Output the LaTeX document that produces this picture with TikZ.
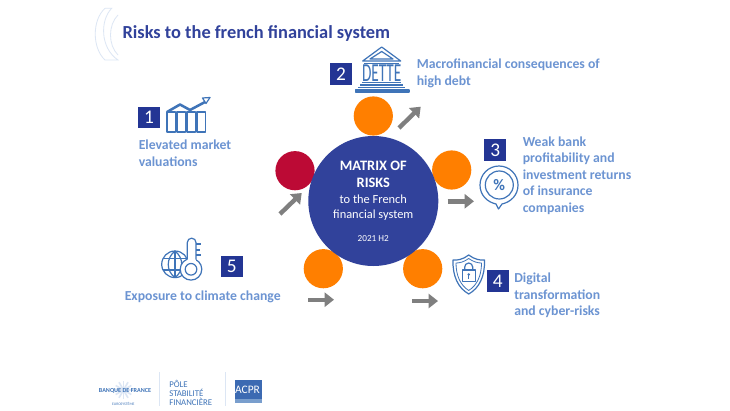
\documentclass[tikz,border=0pt]{standalone}
\usepackage{fontspec}
\setmainfont{Carlito}
\usetikzlibrary{arrows.meta}
\definecolor{navy}{HTML}{31429B}
\definecolor{boxnavy}{HTML}{233594}
\definecolor{lab}{HTML}{6C94D2}
\definecolor{ico}{HTML}{3F74B8}
\definecolor{org}{HTML}{FF7F00}
\definecolor{rd}{HTML}{BC0A35}
\definecolor{gry}{HTML}{7F7F7F}
\definecolor{pale}{HTML}{DCE6F4}
\tikzset{
 lbl/.style={inner sep=0pt,anchor=west,align=left,text=lab,font=\fontsize{10.3}{12.4}\selectfont\bfseries},
 num/.style={fill=boxnavy,text=white,minimum width=16.4pt,minimum height=16.4pt,inner sep=0pt,font=\fontsize{14.5}{14.5}\selectfont},
 dot/.style={circle,inner sep=0pt,minimum size=29.4pt},
 big/.style={circle,fill=navy,inner sep=0pt,minimum size=97.5pt},
 blk/.style={draw=gry,line width=3.3pt,-{Triangle[length=7pt,width=10.5pt]}},
 icn/.style={draw=ico,line width=0.9pt,line join=round},
 icnt/.style={draw=ico,line width=0.6pt,line join=round},
 arcl/.style={draw=pale,line width=0.6pt},
 logo/.style={inner sep=0pt,text=ico}
}
\begin{document}
\begin{tikzpicture}[x=0.75pt,y=-0.75pt]
\useasboundingbox (0,0) rectangle (730,410);
\fill[white] (0,0) rectangle (730,410);
% corner arcs
\draw[arcl] (105,8.3) -- (111.7,8.3) .. controls (100,20) and (100,48) .. (118,60) -- (105,60) .. controls (92,48) and (92,20) .. (105,8.3);
\draw[arcl] (118,15) .. controls (108,25) and (108,45) .. (118,55);
\node[inner sep=0pt,anchor=base west,text=navy,font=\fontsize{13.8}{15}\selectfont\bfseries] (title) at (122.3,39) {Risks to the french financial system};
% circles
\node[dot,fill=org] (d2) at (373.3,116) {};
\node[dot,fill=rd] (d1) at (295,170.7) {};
\node[dot,fill=org] (d3) at (451.7,170) {};
\node[dot,fill=org] (d5) at (323.3,268.7) {};
\node[dot,fill=org] (d4) at (422.7,268.7) {};
\node[big] (mx) at (373.3,201) {};
\node[inner sep=0pt,text=white,align=center,font=\fontsize{10.8}{13}\selectfont\bfseries] (mt) at (373.3,174.5) {MATRIX OF\\RISKS};
\node[inner sep=0pt,text=white,align=center,font=\fontsize{9.3}{11.3}\selectfont] (ms) at (373.3,207.5) {to the French\\financial system};
\node[inner sep=0pt,text=white,font=\fontsize{6.9}{8}\selectfont] (my) at (373.3,239) {2021 H2};
% arrows
\coordinate (a1s) at (280,214); \coordinate (a1e) at (301.7,193);
\coordinate (a2s) at (399,128); \coordinate (a2e) at (420.7,106.7);
\coordinate (a3s) at (447.7,201.3); \coordinate (a3e) at (474,201.3);
\coordinate (a4s) at (412.3,301); \coordinate (a4e) at (438,301);
\coordinate (a5s) at (308.3,299.7); \coordinate (a5e) at (334,299.7);
\draw[blk] (a1s) -- (a1e);
\draw[blk] (a2s) -- (a2e);
\draw[blk] (a3s) -- (a3e);
\draw[blk] (a4s) -- (a4e);
\draw[blk] (a5s) -- (a5e);
% numbers
\node[num] (n1) at (149,117.5) {1};
\node[num] (n2) at (341,74.2) {2};
\node[num] (n3) at (495.2,149.9) {3};
\node[num] (n4) at (497.8,281.2) {4};
\node[num] (n5) at (231.8,266.5) {5};
% labels
\node[lbl] (l1) at (138.5,153) {Elevated market\\valuations};
\node[lbl] (l2) at (416.5,73.5) {Macrofinancial consequences of\\high debt};
\node[lbl] (l3) at (522.5,175.5) {Weak bank\\profitability and\\investment returns\\of insurance\\companies};
\node[lbl] (l4) at (514,295.5) {Digital\\transformation\\and cyber-risks};
\node[lbl] (l5) at (124.5,296.5) {Exposure to climate change};
% icon 1
\foreach \x in {167,177,187,197}{\draw[icn] (\x,132) -- (\x,112) -- (\x+8.5,112) -- (\x+8.5,132) -- cycle;}
\draw[ico,line width=1.9pt,line join=round] (167,112) -- (180,104.5) -- (190,110) -- (205,102);
\draw[icn] (202.5,98) -- (210,97.5) -- (206,103.5) -- cycle;
% icon 2
\draw[icn] (381.7,47) -- (362.7,61) -- (400.7,61) -- cycle;
\draw[icn] (381.7,51.5) -- (370,59) -- (393,59) -- cycle;
\draw[icn] (364,63.5) -- (399,63.5);
\node[inner sep=0pt,text=ico,font=\fontsize{13}{13}\selectfont,xscale=0.88,yscale=1.5] (dette) at (381.7,73) {DETTE};
\draw[icnt] (362,82.5) -- (401,82.5);
\draw[icn] (360,85) -- (403,85); \draw[icn] (358,87.5) -- (405,87.5);
\draw[icn] (355.5,90) rectangle (409,92);
% icon 3
\draw[icn] (496,204) .. controls (487,202) and (480,195) .. (480,185) arc[start angle=180,end angle=360,radius=19] .. controls (518,195) and (511,202) .. (502,204) -- (498.5,209) -- cycle;
\node[draw=ico,line width=0.9pt,circle,minimum size=21pt,inner sep=0pt,text=ico,font=\fontsize{12}{12}\selectfont\bfseries] (pct) at (499.3,185) {\%};
% icon 4
\draw[icn] (468.7,255) .. controls (463,259.5) and (457,260.5) .. (453,260) .. controls (452.5,276) and (458,288) .. (468.7,294) .. controls (479.5,288) and (485,276) .. (484.5,260) .. controls (480.5,260.5) and (474.5,259.5) .. (468.7,255) -- cycle;
\draw[icnt] (468.7,258.5) .. controls (464,262) and (459.5,263) .. (456,263) .. controls (456,275) and (460,285) .. (468.7,290.5) .. controls (477.5,285) and (481.5,275) .. (481.5,263) .. controls (478,263) and (473.5,262) .. (468.7,258.5) -- cycle;
\draw[icn] (462.3,270) rectangle (475.7,281.5);
\draw[icn] (464.7,270) -- (464.7,267) arc[start angle=180,end angle=360,radius=4] -- (472.7,270);
\fill[ico] (468.7,274.5) circle[radius=1.4];
\draw[ico,line width=0.8pt] (468.7,275) -- (468.7,279);
% icon 5
\draw[icn] (175,264.3) circle[radius=13.3];
\draw[icn] (175,251) .. controls (166,258) and (166,271) .. (175,277.6);
\draw[icn] (175,251) .. controls (184,258) and (184,271) .. (175,277.6);
\draw[icn] (175,251) -- (175,277.6);
\draw[icn] (163,258.5) -- (187,258.5); \draw[icn] (163,270) -- (187,270);
\draw[icn,fill=white] (191,269.3) circle[radius=10.8];
\fill[white] (187.3,242) rectangle (196,262);
\draw[icn] (187.3,259.5) -- (187.3,242.5) arc[start angle=180,end angle=360,radius=4.35] -- (196,259.5);
\draw[icn] (191,269.3) circle[radius=5.8];
\draw[icn] (196,244) -- (201,244); \draw[icn] (196,250) -- (200,250); \draw[icn] (196,255) -- (201,255);
% logos
\foreach \a in {0,30,...,330}{\draw[pale,line width=1.2pt] (123.5,390) -- ++(\a:9);}
\node[logo,font=\fontsize{4.6}{5}\selectfont\bfseries] (bdf) at (125,390.7) {BANQUE DE FRANCE};
\node[logo,font=\fontsize{2.8}{3}\selectfont] (euro) at (123.3,404) {EUROSYSTÈME};
\draw[pale,line width=0.7pt] (159.3,372) -- (159.3,406);
\node[logo,anchor=west,align=left,font=\fontsize{6.6}{6.8}\selectfont] (psf) at (169,392.5) {PÔLE\\STABILITÉ\\FINANCIÈRE};
\draw[pale,line width=0.7pt] (225.7,372) -- (225.7,406);
\fill[ico!80!navy] (235,380) rectangle (261.5,399);
\fill[ico!70!white] (235,399) rectangle (261.5,403.3);
\node[inner sep=0pt,text=white,font=\fontsize{8.6}{9}\selectfont] (acpr) at (247.5,389.5) {ACPR};
\end{tikzpicture}
\end{document}
